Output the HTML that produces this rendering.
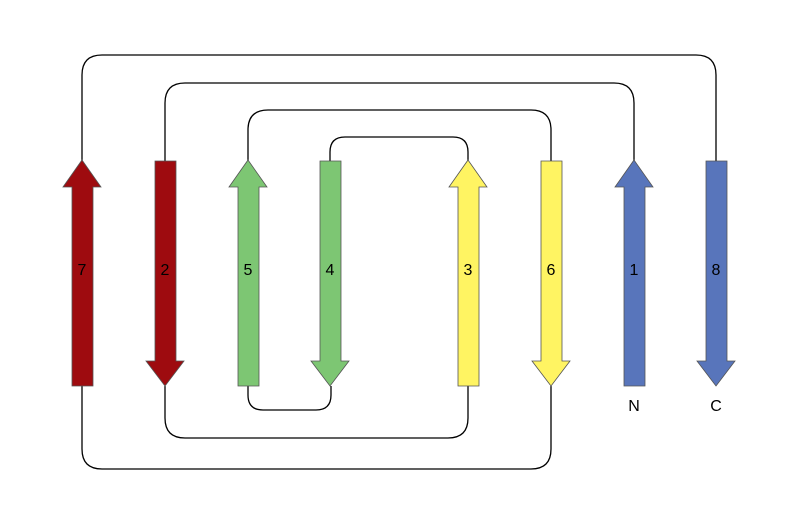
<!DOCTYPE html>
<html><head><meta charset="utf-8"><style>html,body{margin:0;padding:0;background:#fff;}svg{display:block}</style></head>
<body>
<svg width="800" height="525" xmlns="http://www.w3.org/2000/svg" font-family="Liberation Sans, sans-serif">
<g fill="none" stroke="#000" stroke-width="1.3">
<path d="M82,161 V75 Q82,55 102,55 H696 Q716,55 716,75 V161"/>
<path d="M165,161 V103 Q165,83 185,83 H614 Q634,83 634,103 V161"/>
<path d="M248,161 V130 Q248,110 268,110 H531 Q551,110 551,130 V161"/>
<path d="M330,161 V152 Q330,137 345,137 H453 Q468,137 468,152 V161"/>
<path d="M248,386 V395 Q248,410 263,410 H316 Q331,410 331,395 V386"/>
<path d="M165,386 V418 Q165,438 185,438 H448 Q468,438 468,418 V386"/>
<path d="M82,386 V449 Q82,469 102,469 H531 Q551,469 551,449 V386"/>
</g>
<g stroke="#555" stroke-width="0.8">
<path fill="#9e0b0f" d="M82,160 L101,187 L93,187 L93,386 L72,386 L72,187 L63,187 Z"/>
<path fill="#7dc673" d="M248,160 L267,187 L259,187 L259,386 L238,386 L238,187 L229,187 Z"/>
<path fill="#fff462" d="M468,160 L487,187 L479,187 L479,386 L458,386 L458,187 L449,187 Z"/>
<path fill="#5875bb" d="M634,160 L653,187 L645,187 L645,386 L624,386 L624,187 L615,187 Z"/>
<path fill="#9e0b0f" d="M155,161 L176,161 L176,361 L184,361 L165,386 L146,361 L155,361 Z"/>
<path fill="#7dc673" d="M320,161 L341,161 L341,361 L349,361 L330,386 L311,361 L320,361 Z"/>
<path fill="#fff462" d="M541,161 L562,161 L562,361 L570,361 L551,386 L532,361 L541,361 Z"/>
<path fill="#5875bb" d="M706,161 L727,161 L727,361 L735,361 L716,386 L697,361 L706,361 Z"/>
</g>
<g font-size="16" text-anchor="middle" fill="#000">
<text x="82" y="275">7</text>
<text x="165" y="275">2</text>
<text x="248" y="275">5</text>
<text x="330" y="275">4</text>
<text x="468" y="275">3</text>
<text x="551" y="275">6</text>
<text x="634" y="275">1</text>
<text x="716" y="275">8</text>
<text x="634" y="411">N</text>
<text x="716" y="411">C</text>
</g>
</svg>
</body></html>
